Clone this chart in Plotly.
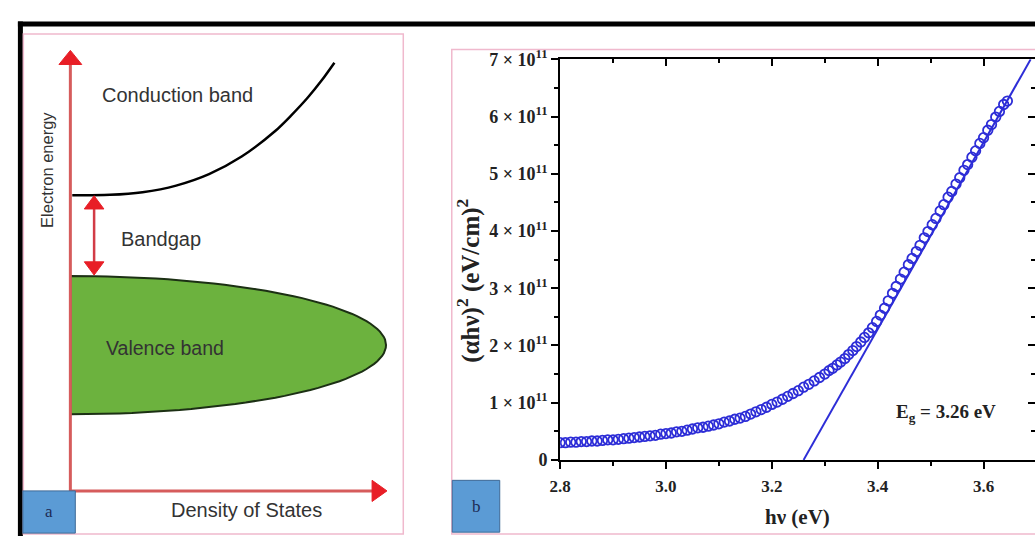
import plotly.graph_objects as go
import math

# ---------------- Panel b data: Tauc plot ----------------
hv_low = [2.80, 2.81, 2.82, 2.83, 2.84, 2.85, 2.86, 2.87, 2.88, 2.89,
          2.90, 2.91, 2.92, 2.93, 2.94, 2.95, 2.96, 2.97, 2.98, 2.99,
          3.00, 3.01, 3.02, 3.03, 3.04, 3.05, 3.06, 3.07, 3.08, 3.09,
          3.10, 3.11, 3.12, 3.13, 3.14, 3.15, 3.16, 3.17, 3.18, 3.19,
          3.20, 3.21, 3.22, 3.23, 3.24, 3.25, 3.26, 3.27, 3.28, 3.29, 3.30]
ahv2_low = [0.30, 0.30, 0.31, 0.31, 0.32, 0.32, 0.33, 0.33, 0.34, 0.35,
            0.35, 0.36, 0.37, 0.38, 0.39, 0.40, 0.41, 0.42, 0.43, 0.45,
            0.46, 0.47, 0.49, 0.50, 0.52, 0.54, 0.56, 0.57, 0.59, 0.61,
            0.63, 0.66, 0.68, 0.71, 0.73, 0.76, 0.80, 0.84, 0.88, 0.92,
            0.97, 1.01, 1.06, 1.11, 1.16, 1.21, 1.27, 1.32, 1.38, 1.44, 1.50]
hv_high = [3.308, 3.315, 3.323, 3.330, 3.338, 3.345, 3.353, 3.360, 3.368, 3.375,
           3.383, 3.390, 3.398, 3.405, 3.413, 3.420, 3.428, 3.435, 3.443, 3.450,
           3.458, 3.465, 3.473, 3.480, 3.488, 3.495, 3.503, 3.510, 3.518, 3.525,
           3.533, 3.540, 3.548, 3.555, 3.563, 3.570, 3.578, 3.585, 3.593, 3.600,
           3.608, 3.615, 3.623, 3.630, 3.638, 3.645]
ahv2_high = [1.56, 1.60, 1.66, 1.71, 1.77, 1.84, 1.91, 1.98, 2.06, 2.14,
             2.22, 2.31, 2.42, 2.53, 2.65, 2.78, 2.91, 3.03, 3.16, 3.28,
             3.41, 3.52, 3.64, 3.75, 3.88, 3.99, 4.11, 4.22, 4.35, 4.46,
             4.59, 4.69, 4.82, 4.93, 5.06, 5.16, 5.29, 5.40, 5.53, 5.63,
             5.76, 5.86, 5.99, 6.09, 6.21, 6.27]
fit_hv = [3.26, 3.689]
fit_ahv2 = [0.0, 7.0]

x_ticks = [2.8, 3.0, 3.2, 3.4, 3.6]
x_tick_text = ["2.8", "3.0", "3.2", "3.4", "3.6"]
x_minor = [2.9, 3.1, 3.3, 3.5, 3.7]
y_ticks = [0, 1, 2, 3, 4, 5, 6, 7]
y_tick_text = ["0"] + [f"{v} \u00d7 10<sup>11</sup>" for v in range(1, 8)]
y_minor = [0.5, 1.5, 2.5, 3.5, 4.5, 5.5, 6.5]
eg_text = "E<sub>g</sub> = 3.26 eV"

# ---------------- Panel a: schematic (arbitrary units) ----------------
cb_dos = [0.06, 1.25, 2.28, 3.34, 4.38, 5.41, 6.47, 6.97, 7.50, 7.94, 8.34]
cb_energy = [6.71, 6.72, 6.78, 6.93, 7.19, 7.59, 8.17, 8.52, 8.93, 9.32, 9.72]
vb_center = 3.31
vb_half_height = 1.57
vb_extent = 9.97
gap_dos = 0.75
gap_top = 6.70
gap_bottom = 4.90
axis_max_dos = 10.0
axis_max_energy = 10.0

W, H = 1035, 546
RED_LINE = "rgb(214,92,92)"
RED_HEAD = "rgb(232,30,38)"
BLUE = "rgb(45,45,215)"
SERIF = "Liberation Serif"
SANS = "Liberation Sans"

fig = go.Figure()

def tri(tip_x, tip_y, dx, dy, length, half_w):
    bx, by = tip_x - dx * length, tip_y - dy * length
    px_, py_ = -dy, dx
    return ([tip_x, bx + px_ * half_w[0], bx - px_ * half_w[0], tip_x],
            [tip_y, by + py_ * half_w[1], by - py_ * half_w[1], tip_y])

# valence band (half ellipse)
n = 80
vx = [vb_extent * math.cos(-math.pi / 2 + math.pi * i / n) for i in range(n + 1)]
vy = [vb_center + vb_half_height * math.sin(-math.pi / 2 + math.pi * i / n) for i in range(n + 1)]
vx = [0] + vx + [0, 0]
vy = [vb_center - vb_half_height] + vy + [vb_center + vb_half_height, vb_center - vb_half_height]
fig.add_trace(go.Scatter(x=vx, y=vy, xaxis="x2", yaxis="y2", mode="lines",
                         fill="toself", fillcolor="rgb(108,178,62)",
                         line=dict(color="rgb(28,48,20)", width=2),
                         hoverinfo="skip", showlegend=False))
# conduction band
fig.add_trace(go.Scatter(x=cb_dos, y=cb_energy, xaxis="x2", yaxis="y2", mode="lines",
                         line=dict(color="black", width=2.5, shape="spline", smoothing=0.8),
                         hoverinfo="skip", showlegend=False))
# axes lines
fig.add_trace(go.Scatter(x=[0, 0], y=[0, axis_max_energy - 0.25], xaxis="x2", yaxis="y2",
                         mode="lines", line=dict(color=RED_LINE, width=3),
                         hoverinfo="skip", showlegend=False))
fig.add_trace(go.Scatter(x=[0, axis_max_dos - 0.4], y=[0, 0], xaxis="x2", yaxis="y2",
                         mode="lines", line=dict(color=RED_LINE, width=3),
                         hoverinfo="skip", showlegend=False))
# bandgap arrow line
fig.add_trace(go.Scatter(x=[gap_dos, gap_dos], y=[gap_bottom + 0.2, gap_top - 0.2],
                         xaxis="x2", yaxis="y2", mode="lines",
                         line=dict(color="rgb(210,60,70)", width=2.5),
                         hoverinfo="skip", showlegend=False))
heads = [
    tri(0, axis_max_energy, 0, 1, 0.32, (0.36, 0)),
    tri(axis_max_dos, 0, 1, 0, 0.47, (0, 0.24)),
    tri(gap_dos, gap_top, 0, 1, 0.30, (0.31, 0)),
    tri(gap_dos, gap_bottom, 0, -1, 0.30, (0.31, 0)),
]
for hx, hy in heads:
    fig.add_trace(go.Scatter(x=hx, y=hy, xaxis="x2", yaxis="y2", mode="lines",
                             fill="toself", fillcolor=RED_HEAD,
                             line=dict(color=RED_HEAD, width=1),
                             hoverinfo="skip", showlegend=False))

# ---- panel b traces ----
fig.add_trace(go.Scatter(x=fit_hv, y=fit_ahv2, mode="lines",
                         line=dict(color=BLUE, width=2), showlegend=False))
fig.add_trace(go.Scatter(x=hv_low + hv_high, y=ahv2_low + ahv2_high, mode="markers",
                         marker=dict(symbol="circle-open", size=9.5, color=BLUE,
                                     line=dict(width=1.8, color=BLUE)),
                         showlegend=False))

xdom = [555 / W, 1.0]
ydom = [1 - 466.7 / H, 1 - 49.3 / H]
xr = [2.8, 2.8 + (W - 555) / 535.0]

axis_common = dict(showgrid=False, zeroline=False, linecolor="black", linewidth=2,
                   tickcolor="black", tickwidth=2)

fig.update_layout(
    width=W, height=H, autosize=False,
    margin=dict(l=0, r=0, t=0, b=0),
    paper_bgcolor="white", plot_bgcolor="rgba(0,0,0,0)",
    xaxis=dict(domain=xdom, range=xr, anchor="y", tickmode="array",
               tickvals=x_ticks, ticktext=x_tick_text, ticks="outside", ticklen=7,
               ticklabelstandoff=3,
               tickfont=dict(family=SERIF, size=17, color="#222", weight="bold"),
               minor=dict(tickmode="array", tickvals=x_minor, ticks="outside",
                          ticklen=4, tickwidth=2, tickcolor="black"),
               **axis_common),
    yaxis=dict(domain=ydom, range=[0, 7], anchor="x", tickmode="array",
               tickvals=y_ticks, ticktext=y_tick_text, ticks="outside", ticklen=7,
               tickfont=dict(family=SERIF, size=18, color="#222", weight="bold"),
               minor=dict(tickmode="array", tickvals=y_minor, ticks="outside",
                          ticklen=4, tickwidth=2, tickcolor="black"),
               **axis_common),
    xaxis3=dict(overlaying="x", side="top", anchor="y", range=xr, tickmode="array",
                tickvals=x_ticks, ticks="inside", ticklen=7, showticklabels=False,
                minor=dict(tickmode="array", tickvals=x_minor, ticks="inside",
                           ticklen=4, tickwidth=2, tickcolor="black"),
                **axis_common),
    yaxis3=dict(overlaying="y", side="right", anchor="x", range=[0, 7], tickmode="array",
                tickvals=y_ticks, ticks="inside", ticklen=7, showticklabels=False,
                minor=dict(tickmode="array", tickvals=y_minor, ticks="inside",
                           ticklen=4, tickwidth=2, tickcolor="black"),
                **axis_common),
    xaxis2=dict(domain=[0, 400 / W], range=[-60 / 32, 340 / 32], visible=False,
                anchor="y2", fixedrange=True),
    yaxis2=dict(domain=[0, 1], range=[(499 - 546) / 45.9, 499 / 45.9], visible=False,
                anchor="x2", fixedrange=True),
)

fig.add_trace(go.Scatter(x=[None], y=[None], xaxis="x3", yaxis="y", showlegend=False))
fig.add_trace(go.Scatter(x=[None], y=[None], xaxis="x", yaxis="y3", showlegend=False))

def px(x):
    return x / W

def py(y):
    return 1 - y / H

shapes = [
    dict(type="line", xref="paper", yref="paper", x0=px(9.5), x1=px(9.5), y0=py(10), y1=0,
         line=dict(color="black", width=5)),
    dict(type="line", xref="paper", yref="paper", x0=px(7), x1=1, y0=py(12.5), y1=py(12.5),
         line=dict(color="black", width=5)),
    dict(type="rect", xref="paper", yref="paper", x0=px(12.5), x1=px(396.5), y0=py(544), y1=py(23),
         line=dict(color="rgb(240,185,205)", width=1.5)),
    dict(type="rect", xref="paper", yref="paper", x0=px(445.5), x1=px(1040), y0=py(544), y1=py(39),
         line=dict(color="rgb(240,185,205)", width=1.5)),
    dict(type="rect", xref="paper", yref="paper", x0=px(12), x1=px(65), y0=py(543), y1=py(499),
         fillcolor="rgb(91,155,213)", line=dict(color="rgb(62,105,150)", width=1)),
    dict(type="rect", xref="paper", yref="paper", x0=px(446), x1=px(494), y0=py(542), y1=py(488),
         fillcolor="rgb(91,155,213)", line=dict(color="rgb(62,105,150)", width=1)),
]
fig.update_layout(shapes=shapes)

TXT = "#333"
ann = [
    dict(text="Conduction band", x=px(168), y=py(87), font=dict(family=SANS, size=20, color=TXT)),
    dict(text="Bandgap", x=px(152), y=py(237), font=dict(family=SANS, size=20, color=TXT)),
    dict(text="Valence band", x=px(156), y=py(350), font=dict(family=SANS, size=19.5, color=TXT)),
    dict(text="Density of States", x=px(238), y=py(519), font=dict(family=SANS, size=20, color=TXT)),
    dict(text="Electron energy", x=px(37), y=py(165), textangle=-90,
         font=dict(family=SANS, size=16.5, color=TXT)),
    dict(text="a", x=px(38.5), y=py(520), font=dict(family=SERIF, size=17, color="#1d2b55")),
    dict(text="b", x=px(470), y=py(515), font=dict(family=SERIF, size=17, color="#1d2b55")),
    dict(text="<b>h\u03bd (eV)</b>", x=px(795), y=py(526), font=dict(family=SERIF, size=21, color="#222")),
    dict(text="<b>(\u03b1h\u03bd)<sup>2</sup> (eV/cm)<sup>2</sup></b>", x=px(463), y=py(280),
         textangle=-90, font=dict(family=SERIF, size=25, color="#222")),
    dict(text="<b>" + eg_text + "</b>", x=px(945), y=py(418), font=dict(family=SERIF, size=19, color="#222")),
]
for a in ann:
    a.setdefault("xref", "paper")
    a.setdefault("yref", "paper")
    a["showarrow"] = False
    a["xanchor"] = "center"
    a["yanchor"] = "middle"
fig.update_layout(annotations=ann)

fig.write_html("out.html")
